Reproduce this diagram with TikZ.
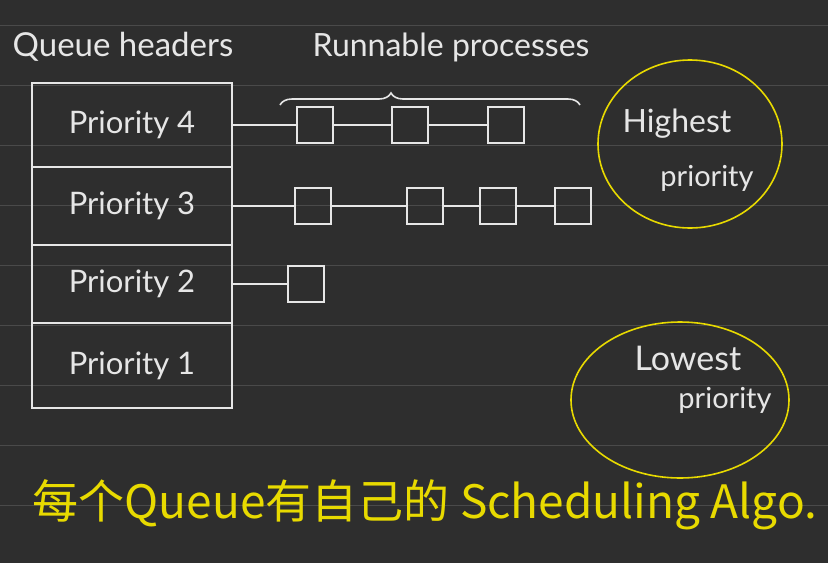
\documentclass[tikz,border=0pt]{standalone}
\usepackage{fontspec}
\setmainfont{Lato}
\newfontfamily\cjk{Noto Sans CJK SC}
\usetikzlibrary{decorations.pathreplacing}
\definecolor{board}{HTML}{2E2E2E}
\definecolor{ruleline}{HTML}{4A4A4A}
\definecolor{chalk}{HTML}{E6E6E6}
\definecolor{marker}{HTML}{E8DA00}
\begin{document}
\begin{tikzpicture}[x=1pt, y=-1pt,
  hand/.style={font=\fontsize{30}{36}\selectfont, text=chalk, inner sep=0pt},
  header/.style={draw=chalk, line width=1.6pt, minimum width=200pt, inner sep=0pt,
    font=\fontsize{31}{36}\selectfont, text=chalk},
  proc/.style={draw=chalk, line width=1.6pt, minimum width=36pt, minimum height=36pt, inner sep=0pt},
  link/.style={chalk, line width=1.6pt},
  ring/.style={marker, line width=1.6pt},
  rule/.style={ruleline, line width=0.8pt}]
  \fill[board] (0,0) rectangle (828,563);
  \useasboundingbox (0,0) rectangle (828,563);
  \foreach \y in {25,85,...,505} \draw[rule] (0,\y) -- (828,\y);
  % queue headers
  \node[hand, font=\fontsize{33}{38}\selectfont] (qh) at (123,47) {Queue headers};
  \node[header, minimum height=84pt] (h4) at (132,125) {Priority 4};
  \node[header, minimum height=78pt] (h3) at (132,206) {Priority 3};
  \node[header, minimum height=78pt] (h2) at (132,284) {Priority 2};
  \node[header, minimum height=85pt] (h1) at (132,365.5) {Priority 1};
  % runnable processes
  \node[hand, font=\fontsize{32}{38}\selectfont] (rp) at (451,47) {Runnable processes};
  \coordinate (bl) at (280,105);
  \coordinate (br) at (580,105);
  \draw[link, decorate, decoration={brace, amplitude=12pt, aspect=0.37}] (bl) -- (br);
  \node[proc] (p41) at (315,125) {};
  \node[proc] (p42) at (410,125) {};
  \node[proc] (p43) at (506,125) {};
  \node[proc] (p31) at (313,206) {};
  \node[proc] (p32) at (425,206) {};
  \node[proc] (p33) at (498,206) {};
  \node[proc] (p34) at (573,206) {};
  \node[proc] (p21) at (306,284) {};
  \draw[link] (h4) -- (p41); \draw[link] (p41) -- (p42); \draw[link] (p42) -- (p43);
  \draw[link] (h3) -- (p31); \draw[link] (p31) -- (p32);
  \draw[link] (p32) -- (p33); \draw[link] (p33) -- (p34);
  \draw[link] (h2) -- (p21);
  % notes
  \node[hand, font=\fontsize{32}{38}\selectfont] (hi1) at (677,124) {Highest};
  \node[hand, font=\fontsize{29}{34}\selectfont] (hi2) at (707,178) {priority};
  \draw[ring] (690,144) ellipse [x radius=92, y radius=84];
  \node[hand, font=\fontsize{34}{38}\selectfont] (lo1) at (688,358) {Lowest};
  \node[hand, font=\fontsize{29}{34}\selectfont] (lo2) at (725,400) {priority};
  \draw[ring] (680,400) ellipse [x radius=109, y radius=78];
  \node[text=marker, inner sep=0pt, font=\cjk\fontsize{46}{52}\selectfont] (algo) at (425,505)
    {每个Queue有自己的 Scheduling Algo.};
\end{tikzpicture}
\end{document}
